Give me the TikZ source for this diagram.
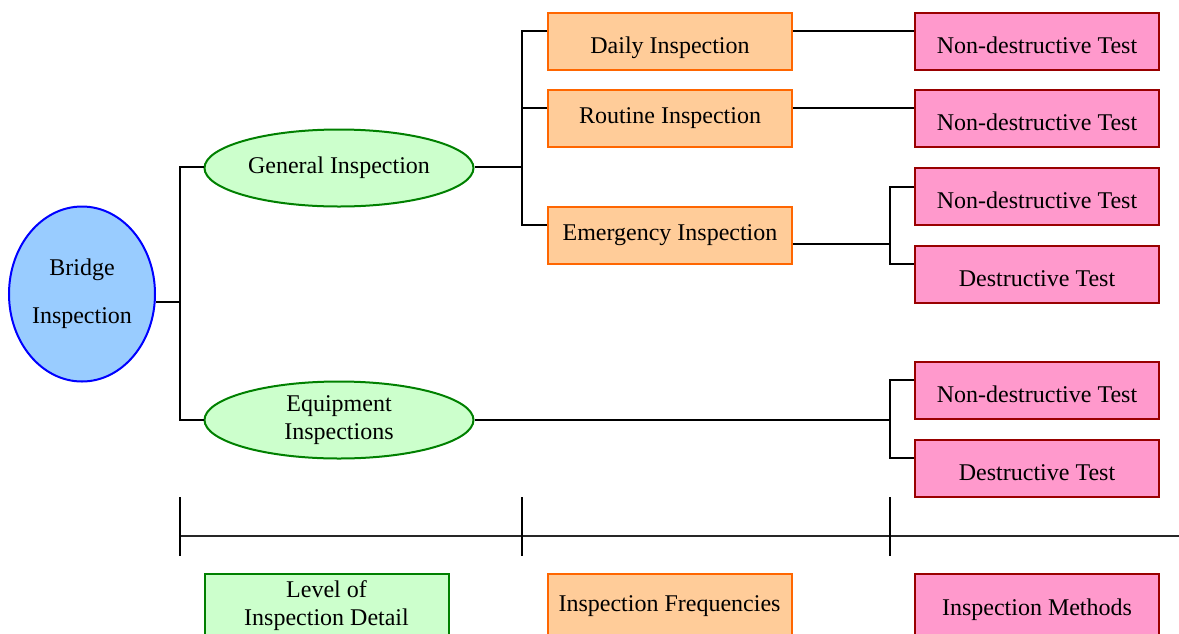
\documentclass[tikz,border=0pt]{standalone}
\usepackage{fontspec}
\setmainfont{Liberation Serif}
\usetikzlibrary{positioning,shapes.geometric}
\definecolor{rootfill}{HTML}{99CCFF}
\definecolor{levelfill}{HTML}{CCFFCC}
\definecolor{levelline}{HTML}{008000}
\definecolor{freqfill}{HTML}{FFCC99}
\definecolor{freqline}{HTML}{FF6600}
\definecolor{methfill}{HTML}{FF99CC}
\definecolor{methline}{HTML}{990000}

\begin{document}
\begin{tikzpicture}[x=0.5pt,y=-0.5pt,
    every node/.style={font=\fontsize{12}{14}\selectfont},
    root/.style={ellipse,draw=blue,fill=rootfill,line width=1pt,inner sep=0pt,
      minimum width=73pt,minimum height=87.5pt,align=center},
    level/.style={ellipse,draw=levelline,fill=levelfill,line width=1pt,inner sep=0pt,
      minimum width=134.5pt,minimum height=38.5pt,align=center},
    freq/.style={draw=freqline,fill=freqfill,line width=1pt,
      minimum width=122pt,minimum height=28.5pt},
    method/.style={draw=methline,fill=methfill,line width=1pt,
      minimum width=122pt,minimum height=28.5pt,text height=12pt,text depth=0pt},
    link/.style={line width=1pt}]
  \useasboundingbox (0,0) rectangle (1179,633);

  % tree
  \node[root] (bridge) at (82,294) {Bridge\\[10pt]Inspection};
  \node[level] (general) at (339,168) {General Inspection};
  \node[level] (equip) at (339,420) {Equipment\\Inspections};
  \node[freq,text height=12pt,text depth=0pt] (daily) at (670,41) {Daily Inspection};
  \node[freq] (routine) at (670,118) {Routine Inspection};
  \node[freq] (emerg) at (670,235) {Emergency Inspection};
  \node[method,right=60.5pt of daily] (nd1) {Non-destructive Test};
  \node[method,right=60.5pt of routine] (nd2) {Non-destructive Test};
  \node[method] (nd3) at (1037,196) {Non-destructive Test};
  \node[method] (dt1) at (1037,274) {Destructive Test};
  \node[method] (nd4) at (1037,390) {Non-destructive Test};
  \node[method] (dt2) at (1037,468) {Destructive Test};

  \coordinate (j0) at (180,302);
  \coordinate (j1) at (522,167);
  \coordinate (j2) at (890,244);
  \coordinate (j3) at (890,420);
  \draw[link] (bridge.east |- j0) -- (j0);
  \draw[link] (general.west |- j1) -| (j0) |- (equip.west);
  \draw[link] (general.east |- j1) -- (j1);
  \draw[link] ([yshift=5pt]daily.west) -| (j1) |- ([yshift=5pt]emerg.west);
  \draw[link] ([yshift=5pt]routine.west) -| (j1);
  \draw[link] ([yshift=5pt]daily.east) -- ([yshift=5pt]nd1.west);
  \draw[link] ([yshift=5pt]routine.east) -- ([yshift=5pt]nd2.west);
  \draw[link] ([yshift=-4.5pt]emerg.east) -- (j2);
  \draw[link] ([yshift=4.5pt]nd3.west) -| (j2) |- ([yshift=5pt]dt1.west);
  \draw[link] (equip.east) -- (j3);
  \draw[link] ([yshift=5pt]nd4.west) -| (j3) |- ([yshift=5pt]dt2.west);

  % axis and legend
  \coordinate (ax0) at (180,536);
  \coordinate (ax1) at (1179,536);
  \draw[line width=1.3pt,black!85] (ax0) -- (ax1);
  \foreach \x in {180,522,890}
    \draw[line width=0.6pt] (\x,497) -- (\x,556);
  \node[draw=levelline,fill=levelfill,line width=1pt,minimum width=122pt,
    minimum height=32pt,align=center] (lvl) at (326.5,606) {Level of\\Inspection Detail};
  \node[freq,minimum height=32pt] (frq) at (669.5,606) {Inspection Frequencies};
  \node[method,minimum height=32pt,text height=9pt] (mth) at (1037,606) {Inspection Methods};
\end{tikzpicture}
\end{document}
